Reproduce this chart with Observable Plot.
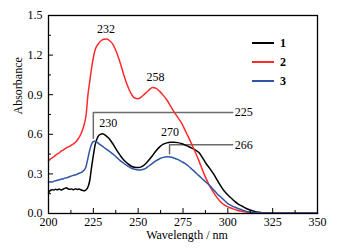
<!DOCTYPE html>
<html>
<head>
<meta charset="utf-8">
<script src="https://cdn.jsdelivr.net/npm/d3@7"></script>
<script src="https://cdn.jsdelivr.net/npm/@observablehq/plot@0.6"></script>
<style>
  html, body { margin: 0; padding: 0; background: #fff; }
  #wrap { position: relative; width: 344px; height: 249px; font-family: "Liberation Serif", "Times New Roman", Times, "DejaVu Serif", serif; }
  #wrap svg, #wrap svg text { font-family: "Liberation Serif", "Times New Roman", Times, "DejaVu Serif", serif !important; }
  #legend { position: absolute; left: 252px; top: 34px; }
  .item { display: flex; align-items: center; height: 18.7px; }
  .swatch { width: 22px; height: 0; border-top: 2px solid; margin-right: 6px; }
  .lab { font-weight: bold; font-size: 12px; line-height: 12px; }
</style>
</head>
<body>
<div id="wrap"><div id="legend"></div></div>
<script>
// ---- data ----
const seriesNames = ["1", "2", "3"];
const seriesColors = ["#000000", "#ff2a2a", "#2f55a8"];

const wl1 = [200,201,202,203,204,205,206,207,208,209,210,211,212,213,214,215,216,217,218,219,220,221,222,223,224,225,226,227,228,229,230,231,232,234,236,238,240,242,244,246,248,250,252,254,256,258,260,262,264,266,268,270,272,274,276,278,280,282,284,286,288,290,292,294,296,298,300,302,304,306,308,310,312,314,316,318,320,325,330,340,350];
const abs1 = [0.155,0.175,0.18,0.178,0.183,0.179,0.186,0.178,0.184,0.19,0.196,0.185,0.183,0.186,0.18,0.187,0.182,0.185,0.18,0.175,0.172,0.18,0.2,0.25,0.35,0.44,0.52,0.565,0.59,0.6,0.605,0.6,0.59,0.565,0.525,0.48,0.44,0.405,0.38,0.36,0.35,0.348,0.355,0.375,0.405,0.44,0.475,0.505,0.525,0.535,0.54,0.54,0.537,0.53,0.52,0.508,0.495,0.48,0.46,0.42,0.375,0.34,0.3,0.255,0.21,0.17,0.14,0.115,0.09,0.07,0.055,0.04,0.028,0.019,0.012,0.008,0.005,0.003,0.002,0.002,0.002];

const wl2 = [200,201,202,203,204,205,206,207,208,209,210,211,212,213,214,215,216,217,218,219,220,221,222,223,224,225,226,227,228,229,230,231,232,233,234,236,238,240,242,244,246,248,250,252,254,256,258,260,262,264,266,268,270,272,274,276,278,280,282,284,286,288,290,292,294,296,298,300,302,305,308,310,315,320,350];
const abs2 = [0.40,0.412,0.422,0.43,0.442,0.452,0.46,0.472,0.48,0.488,0.497,0.505,0.51,0.52,0.528,0.54,0.555,0.575,0.6,0.635,0.68,0.75,0.9,1.0,1.1,1.18,1.24,1.27,1.29,1.305,1.315,1.32,1.322,1.32,1.31,1.28,1.22,1.14,1.05,0.97,0.91,0.875,0.87,0.885,0.91,0.935,0.955,0.948,0.925,0.895,0.86,0.815,0.77,0.73,0.69,0.635,0.58,0.52,0.46,0.395,0.325,0.26,0.205,0.16,0.12,0.087,0.065,0.05,0.04,0.025,0.017,0.012,0.006,0.004,0.003];

const wl3 = [200,201,202,203,204,205,206,207,208,209,210,211,212,213,214,215,216,217,218,219,220,221,222,223,224,225,226,227,228,230,232,234,236,238,240,242,244,246,248,250,252,254,256,258,260,262,264,266,268,270,272,274,276,278,280,282,284,286,288,290,292,294,296,298,300,302,304,306,308,310,312,315,320,350];
const abs3 = [0.235,0.24,0.238,0.245,0.248,0.252,0.255,0.26,0.262,0.268,0.27,0.275,0.28,0.285,0.29,0.292,0.298,0.305,0.31,0.318,0.33,0.36,0.42,0.48,0.525,0.545,0.548,0.54,0.53,0.51,0.49,0.47,0.45,0.425,0.4,0.38,0.36,0.345,0.335,0.33,0.332,0.34,0.36,0.38,0.4,0.415,0.425,0.43,0.428,0.42,0.41,0.395,0.38,0.36,0.335,0.31,0.285,0.26,0.235,0.21,0.18,0.15,0.125,0.1,0.075,0.06,0.047,0.036,0.027,0.018,0.012,0.007,0.004,0.003];

const xTicks = [200, 225, 250, 275, 300, 325, 350];
const xMinor = [212.5, 237.5, 262.5, 287.5, 312.5, 337.5];
const yTicks = [0, 0.3, 0.6, 0.9, 1.2, 1.5];
const yMinor = [0.15, 0.45, 0.75, 1.05, 1.35];

// peak labels: series index, wavelength, label
const peakSeries = [1, 1, 0, 0];
const peakWl = [232, 258, 230, 270];
const peakText = ["232", "258", "230", "270"];
const peakDx = [0, 3, 6, -4];

// callouts: label, wavelength of the drop, level of the leader, end of leader, series it points to
const calloutText = ["225", "266"];
const calloutWl = [225, 267.5];
const calloutLevel = [0.765, 0.521];
const calloutEnd = [302.7, 302.7];
const calloutSeries = [2, 2];

// ---- build tables ----
const wls = [wl1, wl2, wl3];
const abss = [abs1, abs2, abs3];
const rows = [];
seriesNames.forEach((s, i) => wls[i].forEach((w, j) => rows.push({series: s, wl: w, a: abss[i][j]})));

function valueAt(si, w) {
  const xs = wls[si], ys = abss[si];
  for (let k = 0; k < xs.length - 1; k++) {
    if (w >= xs[k] && w <= xs[k + 1]) {
      const t = (w - xs[k]) / (xs[k + 1] - xs[k]);
      return ys[k] + t * (ys[k + 1] - ys[k]);
    }
  }
  return ys[ys.length - 1];
}

const peaks = peakWl.map((w, i) => ({wl: w, a: valueAt(peakSeries[i], w), text: peakText[i], dx: peakDx[i]}));
const leaderRows = [];
const calloutLabels = [];
calloutText.forEach((t, i) => {
  const bottom = valueAt(calloutSeries[i], calloutWl[i]) + 0.025;
  leaderRows.push({id: t, wl: calloutWl[i], a: bottom});
  leaderRows.push({id: t, wl: calloutWl[i], a: calloutLevel[i]});
  leaderRows.push({id: t, wl: calloutEnd[i], a: calloutLevel[i]});
  calloutLabels.push({wl: calloutEnd[i], a: calloutLevel[i], text: t});
});

const font = "'Liberation Serif', 'Times New Roman', Times, 'DejaVu Serif', serif";

const chart = Plot.plot({
  width: 344,
  height: 249,
  marginLeft: 48,
  marginRight: 27,
  marginTop: 15,
  marginBottom: 36,
  style: "font-family: 'Liberation Serif', 'Times New Roman', Times, 'DejaVu Serif', serif; font-size: 12px; background: #fff; color: #000;",
  x: {domain: [200, 350]},
  y: {domain: [0, 1.5]},
  color: {domain: seriesNames, range: seriesColors},
  marks: [
    Plot.line(leaderRows, {x: "wl", y: "a", z: "id", stroke: "#6b6b6b", strokeWidth: 1.5}),
    Plot.line(rows, {x: "wl", y: "a", z: "series", stroke: "series", strokeWidth: 1.5, curve: "monotone-x"}),
    ...peaks.map(p => Plot.text([p], {x: "wl", y: "a", text: "text", dy: -10, dx: p.dx, fontSize: 12, fontFamily: font})),
    Plot.text(calloutLabels, {x: "wl", y: "a", text: "text", textAnchor: "start", dx: 2, fontSize: 12, fontFamily: font}),
    Plot.axisX(xTicks, {tickSize: -5, tickPadding: 9, tickFormat: d => String(d), fontSize: 12, fontFamily: font, label: null}),
    Plot.axisX(xMinor, {tickSize: -3, tickFormat: () => "", label: null}),
    Plot.axisY(yTicks, {tickSize: -5, tickPadding: 11, tickFormat: d => d.toFixed(1), fontSize: 12, fontFamily: font, label: null}),
    Plot.axisY(yMinor, {tickSize: -3, tickFormat: () => "", label: null}),
    Plot.frame({stroke: "#000", strokeWidth: 1.3}),
    Plot.text(["Wavelength / nm"], {frameAnchor: "bottom", text: d => d, dy: 25, dx: 4, fontSize: 12, fontFamily: font}),
    Plot.text(["Absorbance"], {frameAnchor: "left", text: d => d, rotate: -90, dx: -30, fontSize: 12, fontFamily: font})
  ]
});

document.getElementById("wrap").prepend(chart);

const legend = document.getElementById("legend");
seriesNames.forEach((s, i) => {
  const item = document.createElement("div");
  item.className = "item";
  const sw = document.createElement("span");
  sw.className = "swatch";
  sw.style.borderTopColor = seriesColors[i];
  const lab = document.createElement("span");
  lab.className = "lab";
  lab.textContent = s;
  item.append(sw, lab);
  legend.append(item);
});
</script>
</body>
</html>
